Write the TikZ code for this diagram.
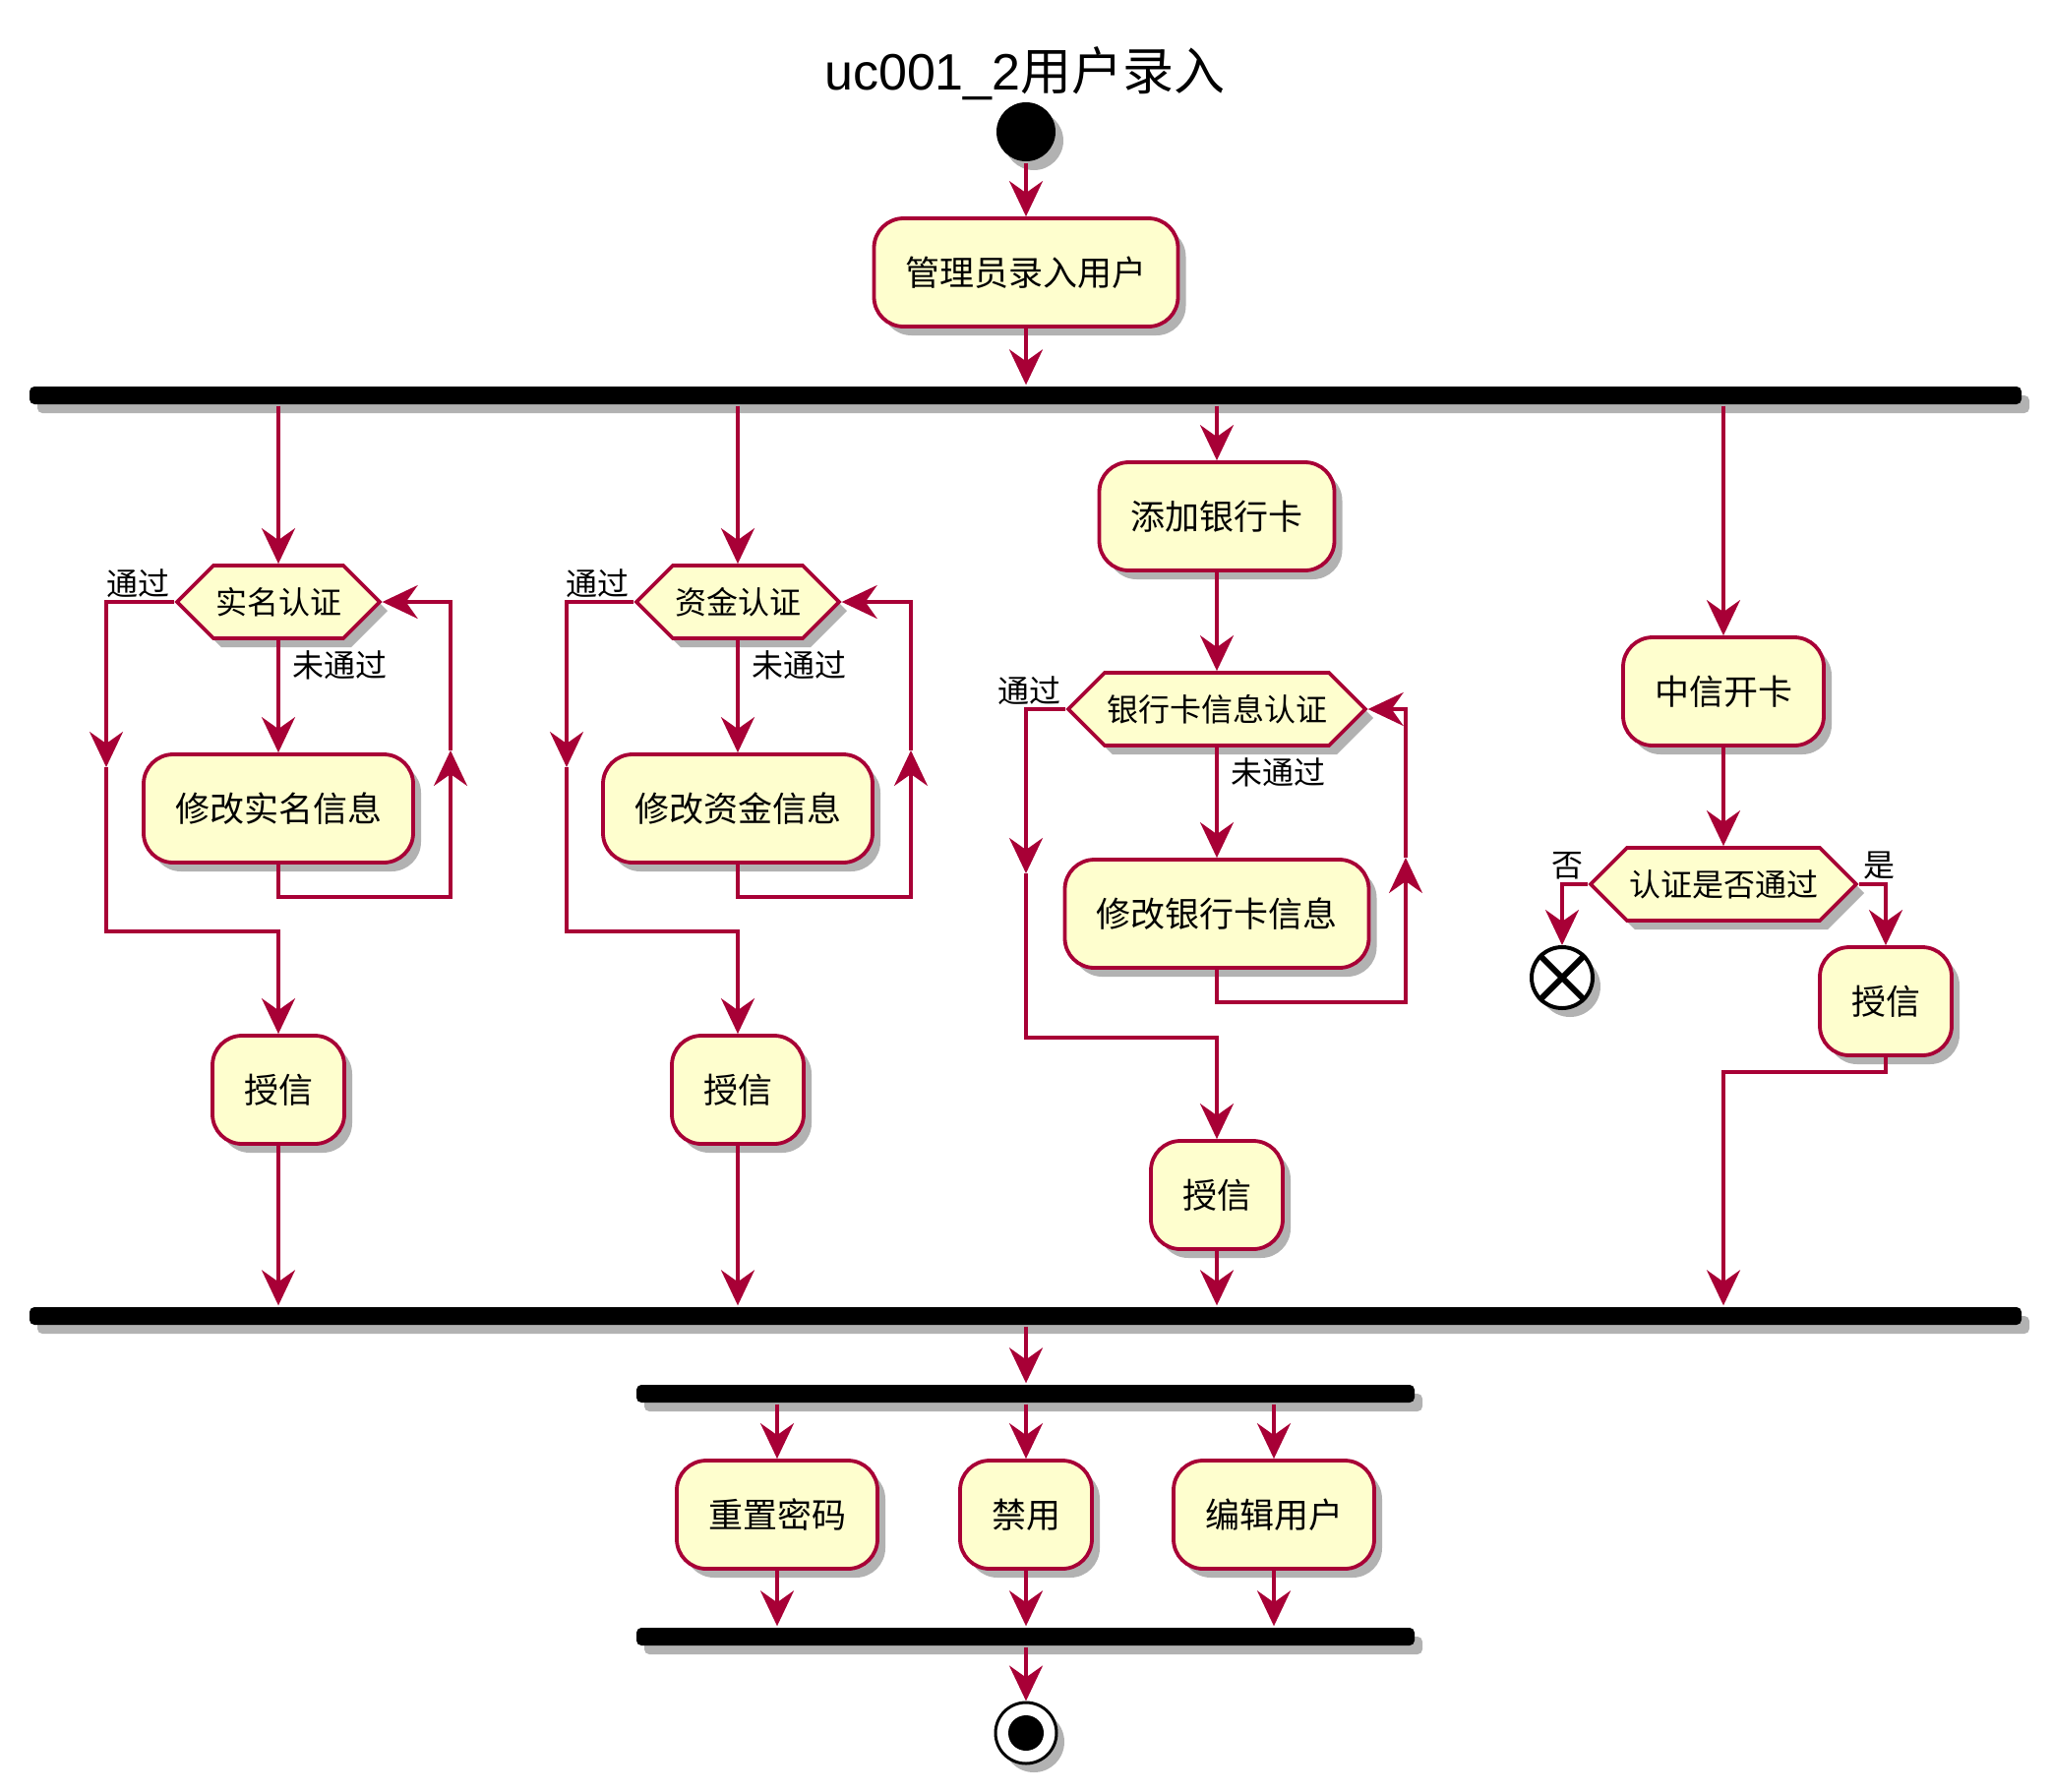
\documentclass[tikz,border=0pt]{standalone}
\usepackage{fontspec}
\setmainfont{Noto Sans CJK SC}
\newfontfamily\latinfont{Liberation Sans}
\usetikzlibrary{arrows.meta, shapes.symbols, shadows}

\definecolor{umlred}{HTML}{A80036}
\definecolor{umlfill}{HTML}{FEFECE}
\newcommand\actfont{\fontsize{17.5pt}{20pt}\selectfont}
\newcommand\decfont{\fontsize{16pt}{19pt}\selectfont}
\newcommand\lblfont{\fontsize{16pt}{19pt}\selectfont}
\newcommand\ttlfont{\fontsize{26pt}{30pt}\selectfont}

\begin{document}
\begin{tikzpicture}[
                x = 0.5pt, y = -0.5pt, % one unit is one pixel of the layout
                > = {Stealth[length=18pt, width=17pt, inset=6pt]}, % arrow head style
                line width = 1.7pt % line style
            ]

            \tikzstyle{shade}=[drop shadow={shadow xshift=4pt, shadow yshift=-4.5pt,
                fill=black, opacity=0.3}]
            \tikzstyle{act}=[draw = umlred, fill = umlfill, line width = 1.9pt,
                rounded corners = 15pt, minimum height = 55pt, inner xsep = 16pt,
                font = \actfont, shade]
            \tikzstyle{test}=[signal, signal to = east and west, draw = umlred,
                fill = umlfill, line width = 1.9pt, minimum height = 37pt,
                inner xsep = 1pt, font = \decfont, shade]
            \tikzstyle{bar}=[fill = black, rounded corners = 2.5pt, minimum height = 9pt,
                inner sep = 0pt, shade]
            \tikzstyle{flow}=[->, draw = umlred]
            \tikzstyle{lbl}=[font = \lblfont, inner sep = 1.5pt]

            \useasboundingbox (0,0) rectangle (2085,1822);

            \node[font = \ttlfont] (title) at (1042,75) {{\latinfont uc001\_2}用户录入};
            \node[circle, fill = black, minimum size = 30pt, inner sep = 0pt, shade]
                (start) at (1043,134) {};
            \node[act] (admin) at (1043,277) {管理员录入用户};
            \node[bar, minimum width = 1012.5pt] (fork1) at (1042.5,402) {};
            \node[bar, minimum width = 1012.5pt] (join1) at (1042.5,1338) {};

            % four parallel branches
            \node[test] (d1) at (283,612) {实名认证}; \node[act] (e1) at (283,822)
                {修改实名信息}; \node[act] (g1) at (283,1108) {授信};
            \node[test] (d2) at (750,612) {资金认证}; \node[act] (e2) at (750,822)
                {修改资金信息}; \node[act] (g2) at (750,1108) {授信};
            \node[act] (c3) at (1237,525) {添加银行卡}; \node[test] (d3) at (1237,721)
                {银行卡信息认证}; \node[act] (e3) at (1237,929) {修改银行卡信息};
            \node[act] (g3) at (1237,1215) {授信};
            \node[act] (c4) at (1752,703) {中信开卡}; \node[test] (d4) at (1752,899)
                {认证是否通过}; \node[act] (g4) at (1917,1018) {授信};
            \node[circle, draw = black, fill = white, line width = 2pt, minimum size = 31pt,
                inner sep = 0pt, shade] (kill) at (1588,994) {};
            \draw[line width = 3pt] (kill.north west) -- (kill.south east)
                (kill.north east) -- (kill.south west);

            \node[bar, minimum width = 395.5pt] (fork2) at (1042.5,1417) {};
            \node[act] (reset) at (790,1540) {重置密码}; \node[act] (ban) at (1043,1540)
                {禁用}; \node[act] (edit) at (1295,1540) {编辑用户};
            \node[bar, minimum width = 395.5pt] (join2) at (1042.5,1664) {};
            \node[circle, draw = black, fill = white, line width = 1.5pt, minimum size = 31pt,
                inner sep = 0pt, shade] (end) at (1043,1762) {};
            \node[circle, fill = black, minimum size = 18pt, inner sep = 0pt] (dot)
                at (end) {};

            \coordinate (p1) at (108,780); \coordinate (m1) at (108,947);
            \coordinate (q1) at (458,763); \coordinate (n1) at (458,912);
            \coordinate (p2) at (576,780); \coordinate (m2) at (576,947);
            \coordinate (q2) at (926,763); \coordinate (n2) at (926,912);
            \coordinate (p3) at (1043,888); \coordinate (m3) at (1043,1055);
            \coordinate (q3) at (1429,872); \coordinate (n3) at (1429,1019);
            \coordinate (n4) at (1917,1090);

            \draw[flow] (start.south) -- (admin.north);
            \draw[flow] (admin.south) -- (admin |- fork1.north);

            \foreach \i in {1,2} {
                \draw[flow] (d\i |- fork1.south) -- (d\i.north);
                \draw[flow] (d\i.south) -- (e\i.north);
                \draw[flow] (e\i.south) |- (n\i) -- (q\i);
                \draw[flow] (q\i) |- (d\i.east);
                \draw[flow] (d\i.west) -| (p\i);
                \draw[flow] (p\i) -- (m\i) -| (g\i.north);
                \draw[flow] (g\i.south) -- (g\i |- join1.north);
            }
            \draw[flow] (c3 |- fork1.south) -- (c3.north);
            \draw[flow] (c3.south) -- (d3.north); \draw[flow] (d3.south) -- (e3.north);
            \draw[flow] (e3.south) |- (n3) -- (q3); \draw[flow] (q3) |- (d3.east);
            \draw[flow] (d3.west) -| (p3); \draw[flow] (p3) -- (m3) -| (g3.north);
            \draw[flow] (g3.south) -- (g3 |- join1.north);

            \draw[flow] (c4 |- fork1.south) -- (c4.north);
            \draw[flow] (c4.south) -- (d4.north);
            \draw[flow] (d4.west) -| (kill.north); \draw[flow] (d4.east) -| (g4.north);
            \draw[flow] (g4.south) -- (n4) -| (c4 |- join1.north);

            % labels of the guards
            \foreach \i in {1,2,3} {
                \node[lbl, anchor = south east] at (d\i.west) {通过};
                \node[lbl, anchor = north west, xshift = 5pt, yshift = -3pt] at (d\i.south)
                    {未通过};
            }
            \node[lbl, anchor = south east] at (d4.west) {否};
            \node[lbl, anchor = south west] at (d4.east) {是};

            \draw[flow] (ban |- join1.south) -- (ban |- fork2.north);
            \foreach \n in {reset, ban, edit} {
                \draw[flow] (\n |- fork2.south) -- (\n.north);
                \draw[flow] (\n.south) -- (\n |- join2.north);
            }
            \draw[flow] (ban |- join2.south) -- (end.north);

        \end{tikzpicture}
\end{document}
